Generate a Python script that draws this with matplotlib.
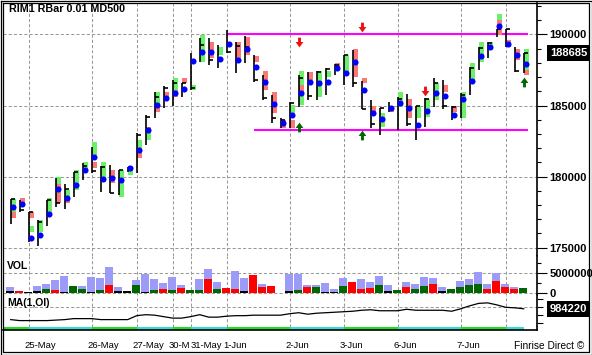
import numpy as np
import matplotlib
matplotlib.use('Agg')
import matplotlib.pyplot as plt
from matplotlib import transforms
from matplotlib.path import Path
from matplotlib.lines import Line2D

plt.rcParams['font.family'] = ['Liberation Sans', 'DejaVu Sans']

W, H = 592, 355
nan = np.nan

# price bars (one per bar, 58 bars)
bar_high = [178420, 178350, 177500, 176940, 178350, 179900, 179470, 180320, 180950, 182080,
            180740, 180810, 180460, 180670, 183060, 184330, 185950, 186370, 186800, 186590,
            188700, 189750, 189750, 189260, 190320, 189470, 189890, 188560, 187150, 185740,
            184120, 185250, 187150, 187360, 187430, 187640, 187920, 188560, 188910, 186730,
            185390, 184820, 185250, 185600, 185810, 184970, 185530, 186940, 186800, 184970,
            185880, 187710, 189120, 189470, 190390, 190390, 189120, 188700]
bar_low = [176660, 177500, 175390, 175110, 176520, 177850, 177710, 178560, 179750, 180250,
           178910, 178840, 178700, 180320, 180250, 182220, 184120, 184820, 184970, 185600,
           186090, 188060, 187850, 187640, 188700, 187290, 187990, 186660, 185390, 183770,
           183420, 183420, 184890, 185390, 185390, 185740, 187150, 186440, 186300, 184750,
           183420, 182920, 184540, 183280, 183560, 182570, 183490, 184890, 184750, 183980,
           184120, 185740, 187500, 188350, 189820, 189120, 187360, 187290]
bar_close = [178420, 177640, 177500, 176800, 178350, 178140, 179120, 180320, 180740, 180390,
             180670, 178840, 180460, 180670, 182920, 184190, 185600, 186230, 186590, 186590,
             186230, 189260, 188200, 188200, 188770, 189190, 189120, 186800, 185530, 184120,
             183980, 185180, 186940, 185670, 187360, 187570, 187850, 188560, 186590, 184750,
             183700, 184820, 184890, 185460, 183700, 184970, 185460, 186590, 184970, 184890,
             185740, 187640, 189050, 189400, 190390, 190390, 187430, 188685]
bar_dot = [177850, 178060, 175670, 175880, 177360, 179120, 178490, 179400, 180460, 181370,
           179820, 179900, 179750, 180600, 181870, 183280, 185040, 185530, 185880, 186160,
           188130, 188770, 188770, 188280, 189330, 188200, 188980, 187710, 186660, 185110,
           183770, 184330, 185880, 186660, 186590, 186660, 187640, 187290, 188060, 186090,
           184470, 184050, 184820, 185180, 184820, 183630, 184610, 185880, 185670, 184330,
           185460, 186730, 188490, 189120, 190600, 189330, 188560, 187920]
green_top = [178420, nan, 176520, 176940, 178490, 179970, 179050, 180460, 181020, 182430,
             181020, nan, 180460, 180460, 182570, 183060, 185950, nan, 186940, nan,
             186440, 189960, nan, 189120, nan, nan, nan, nan, nan, nan,
             nan, 185040, 187430, nan, 187430, 187430, nan, 188560, nan, nan,
             nan, 184470, nan, 185950, nan, 184970, 185460, 186590, nan, nan,
             185950, 187990, 189470, 189470, 191440, nan, nan, 188980]
green_bot = [177500, nan, 176090, 176090, 177500, 179470, 178560, 179050, 180320, 181510,
             179970, nan, 178560, 180110, 181660, 182570, 184970, nan, 186090, nan,
             186090, 188060, nan, 188560, nan, nan, nan, nan, nan, nan,
             nan, 184470, 185040, nan, 185600, 187010, nan, 187360, nan, nan,
             nan, 183490, nan, 184890, nan, 184120, 184190, 185390, nan, nan,
             184120, 186590, 188060, 189120, 191020, nan, nan, 187500]
red_top = [177500, 178490, 177500, nan, nan, 179470, 178490, nan, nan, 181020,
           nan, 180460, nan, nan, 181660, 183490, 184970, 185950, 186090, 186940,
           nan, nan, 189470, nan, nan, 189470, 189820, 188490, 187430, 185950,
           183980, 183980, 186440, 187360, nan, nan, 187990, nan, 188980, 186940,
           184970, nan, 184970, nan, 185460, nan, nan, nan, 186440, 184970,
           nan, nan, nan, nan, 191020, 189610, 188980, 187500]
red_bot = [177080, 178140, 177080, nan, nan, 178140, 178140, nan, nan, 180600,
           nan, 179540, nan, nan, 181300, 183060, 184540, 185600, 185600, 186590,
           nan, nan, 188350, nan, nan, 188350, 188560, 188060, 186090, 184470,
           183420, 183420, 185950, 186800, nan, nan, 187640, nan, 187010, 186590,
           184540, nan, 184540, nan, 184120, nan, nan, nan, 185950, 184540,
           nan, nan, nan, nan, 189960, 189120, 188200, 187150]

# volume panel
vol_total = [1.5, 0.4, 0.3, 1.75, 2.3, 3.3, 4.3, 1.8, 1.8, 4.0, 3.8, 6.6, 1.5, 0.5, 3.3,
             4.7, 3.5, 2.5, 4.0, 2.0, 0.8, 3.5, 6.0, 2.7, 1.3, 5.5, 3.8, 4.5, 2.2, 1.8,
             0.1, 4.7, 4.7, 2.0, 2.0, 2.5, 1.0, 3.8, 2.7, 3.5, 2.7, 4.3, 2.0, 0.8, 2.8,
             2.2, 4.0, 3.7, 1.4, 0.9, 2.9, 3.4, 5.2, 2.2, 4.9, 2.2, 1.4, 1.2]
vol_part = [0.4, 0.4, 0.3, 0.4, 1.1, 0.8, 0.3, 1.8, 1.1, 0.3, 0.8, 2.0, 0.5, 0.5, 2.0,
            0.3, 0.8, 1.1, 0.8, 1.3, 0.8, 0.8, 3.5, 1.0, 1.3, 1.0, 0.4, 4.5, 1.5, 1.8,
            0.1, 0.4, 0.8, 1.5, 1.5, 0.3, 0.3, 1.8, 2.7, 1.0, 1.3, 2.0, 0.4, 0.8, 1.5,
            1.0, 1.8, 2.2, 0.4, 0.9, 1.4, 1.9, 2.2, 0.9, 2.9, 1.4, 1.0, 1.2]
vol_side = list('krkkgrkggkgrkkgkgrgrggrgrrkrrrkkgrgkkgrrrgkgrggrkggggrrrrg')

# MA(1,OI)
ma_values = [951220, 948220, 948220, 948220, 948220, 949720, 951220, 954220, 954220, 954220,
             951220, 951220, 951220, 951220, 963220, 966220, 964720, 960220, 955720, 955720,
             960220, 966220, 958720, 958720, 961720, 963220, 963220, 964720, 964720, 964720,
             964720, 969220, 972220, 967720, 970720, 972220, 973720, 975220, 976720, 979720,
             981220, 978220, 978220, 978220, 982720, 979720, 979720, 979720, 979720, 976720,
             984220, 993220, 1000720, 1002220, 996220, 988720, 987220, 984220]

# sessions: first bar of each day
day_start = [3, 10, 15, 19, 21, 25, 32, 38, 44, 51, 56]
day_labels = ['25-May', '26-May', '27-May', '30-M', '31-May', '1-Jun', '2-Jun',
              '3-Jun', '6-Jun', '7-Jun']

# channel lines and signals
res_level, res_from = 190000, 25
sup_level, sup_from = 183300, 28
down_bars = [33, 40, 47]
down_price = [189470, 190530, 186020]
up_bars = [33, 40, 58]
up_price = [183490, 182920, 186660]

n = len(bar_high)
idx = np.arange(1, n + 1)
vol_total = np.array(vol_total) * 1e6
vol_part = np.array(vol_part) * 1e6
green_top, green_bot = np.array(green_top), np.array(green_bot)
red_top, red_bot = np.array(red_top), np.array(red_bot)

fig = plt.figure(figsize=(W / 100, H / 100), dpi=100)


def box(left, top, right, bottom):
    return [left / W, 1 - bottom / H, (right - left) / W, (bottom - top) / H]


ax_p = fig.add_axes(box(3, 3, 537, 256))
ax_v = fig.add_axes(box(3, 256, 537, 295), sharex=ax_p)
ax_m = fig.add_axes(box(3, 295, 537, 326.5), sharex=ax_p)
ax_s = fig.add_axes(box(3, 326.5, 537, 329.5), sharex=ax_p)

for ax in (ax_p, ax_v, ax_m, ax_s):
    for s in ('left', 'top', 'bottom'):
        ax.spines[s].set_visible(False)
    ax.spines['right'].set_linewidth(1.2)
    ax.yaxis.tick_right()
    ax.tick_params(axis='x', bottom=False, labelbottom=False)
    ax.tick_params(axis='y', which='both', width=0.8, direction='out', colors='black')
ax_p.set_xlim(0.144, 59.48)
ax_s.spines['bottom'].set_visible(True)
ax_s.spines['bottom'].set_linewidth(1.2)
ax_s.set_yticks([])

grid_kw = dict(color='#9a9a9a', lw=0.75, ls=(0, (3, 2)), zorder=1)

# ---- price panel
ax_p.set_ylim(174402, 192218)
ax_p.set_yticks([175000, 180000, 185000, 190000])
ax_p.set_yticklabels(['175000', '180000', '185000', '190000'], fontweight='bold', fontsize=8)
ax_p.set_yticks(np.arange(175000, 192001, 1000), minor=True)
ax_p.tick_params(axis='y', which='major', length=7, pad=2)
ax_p.tick_params(axis='y', which='minor', length=3)
for lv in [175000, 180000, 185000, 190000]:
    ax_p.axhline(lv, **grid_kw)

ax_p.hlines(res_level, res_from, n + 0.5, color='#ff00ff', lw=1.5, zorder=2)
ax_p.hlines(sup_level, sup_from, n + 0.5, color='#ff00ff', lw=1.5, zorder=2)

g = ~np.isnan(green_top)
ax_p.bar(idx[g] + 0.36, green_top[g] - green_bot[g], bottom=green_bot[g], width=0.55,
         color='#6cf06c', lw=0, zorder=3)
r = ~np.isnan(red_top)
ax_p.bar(idx[r] + 0.36, red_top[r] - red_bot[r], bottom=red_bot[r], width=0.55,
         color='#f87878', lw=0, zorder=3)
ax_p.vlines(idx, bar_low, bar_high, color='black', lw=1.2, zorder=4)
ax_p.hlines(bar_close, idx, idx + 0.45, color='black', lw=1.2, zorder=5)
ax_p.plot(idx + 0.3, bar_dot, 'o', color='#0000ff', ms=4.4, mec='none', zorder=6)

down_arrow = Path([(-0.3, 1), (0.3, 1), (0.3, 0.1), (0.8, 0.1), (0, -1), (-0.8, 0.1),
                   (-0.3, 0.1), (-0.3, 1)], closed=True)
up_arrow = Path([(-0.3, -1), (0.3, -1), (0.3, -0.1), (0.8, -0.1), (0, 1), (-0.8, -0.1),
                 (-0.3, -0.1), (-0.3, -1)], closed=True)
ax_p.plot(down_bars, down_price, ls='none', marker=down_arrow, ms=7, color='#ee1111',
          mec='none', zorder=7)
ax_p.plot(up_bars, up_price, ls='none', marker=up_arrow, ms=7, color='#006600',
          mec='none', zorder=7)

last_tf = transforms.blended_transform_factory(ax_p.transAxes, ax_p.transData)
ax_p.text(1.0243, bar_close[-1], f'{bar_close[-1]}', transform=last_tf, ha='left',
          va='center', color='white', fontsize=8, fontweight='bold',
          bbox=dict(boxstyle='square,pad=0.25', fc='black', ec='none'), clip_on=False)

# ---- volume panel
ax_v.set_ylim(-0.5e6, 9.25e6)
ax_v.set_yticks([0, 5e6])
ax_v.set_yticklabels(['0', '5000000'], fontweight='bold', fontsize=8)
ax_v.set_yticks([2.5e6, 7.5e6], minor=True)
ax_v.tick_params(axis='y', which='major', length=7, pad=2)
ax_v.tick_params(axis='y', which='minor', length=3)
for lv in [0, 5e6]:
    ax_v.axhline(lv, **grid_kw)
side_colors = {'g': '#006600', 'r': '#ff0000', 'k': '#000000'}
ax_v.bar(idx - 0.08, vol_total, width=0.88, color='#9c9cf8', lw=0, zorder=3)
ax_v.bar(idx - 0.08, vol_part, width=0.88, color=[side_colors[c] for c in vol_side],
         lw=0, zorder=4)

# ---- MA panel
ax_m.set_ylim(930220, 1026220)
ax_m.set_yticks([940000, 965000, 990000, 1015000])
ax_m.set_yticklabels([])
ax_m.tick_params(axis='y', which='major', length=4)
ax_m.axhline(990000, **grid_kw)
ax_m.plot(idx, ma_values, color='black', lw=0.9, zorder=3)
ma_tf = transforms.blended_transform_factory(ax_m.transAxes, ax_m.transData)
ax_m.text(1.0243, ma_values[-1], f'{ma_values[-1]}', transform=ma_tf, ha='left',
          va='center', color='white', fontsize=8, fontweight='bold',
          bbox=dict(boxstyle='square,pad=0.25', fc='black', ec='none'), clip_on=False)

for ax in (ax_p, ax_v, ax_m):
    for d in day_start:
        ax.axvline(d, **grid_kw)

# ---- session stripe
edges = [0.144] + day_start + [n]
for i in range(len(edges) - 1):
    ax_s.axvspan(edges[i], edges[i + 1], color='#22dd22' if i % 2 == 0 else '#33dcd4', lw=0)

# ---- texts
date_tf = transforms.blended_transform_factory(ax_p.transData, fig.transFigure)
for d, lab in zip(day_start, day_labels):
    shift = {'30-M': -0.5, '31-May': 0.0}.get(lab, -0.42)
    ax_p.text(d + shift, 1 - 346 / H, lab, transform=date_tf, ha='left', va='center',
              fontsize=6.8, clip_on=False)

fig.text(9 / W, 1 - 9 / H, 'RIM1 RBar 0.01 MD500', fontsize=7.75, fontweight='bold',
         ha='left', va='center')
fig.text(7 / W, 1 - 266 / H, 'VOL', fontsize=7.5, fontweight='bold', ha='left', va='center')
fig.text(7 / W, 1 - 303 / H, 'MA(1,OI)', fontsize=7.5, fontweight='bold', ha='left',
         va='center')
fig.text(514 / W, 1 - 346 / H, 'Finrise Direct \u00a9', fontsize=7.3, ha='left', va='center')

# double frame
for l, t, rr, b in [(0.5, 0.5, 591.5, 354.5), (2.5, 2.5, 588.8, 352)]:
    xs = [l / W, rr / W, rr / W, l / W, l / W]
    ys = [1 - t / H, 1 - t / H, 1 - b / H, 1 - b / H, 1 - t / H]
    fig.add_artist(Line2D(xs, ys, color='black', lw=0.9, transform=fig.transFigure))

fig.savefig('out.png', dpi=100)
